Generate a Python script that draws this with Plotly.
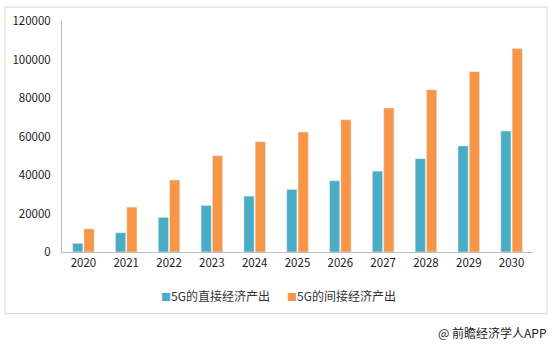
import plotly.graph_objects as go

years = ["2020", "2021", "2022", "2023", "2024", "2025", "2026", "2027", "2028", "2029", "2030"]
direct = [4500, 10000, 18000, 24200, 29000, 32500, 37000, 42000, 48500, 55100, 62800]
indirect = [12000, 23300, 37400, 50000, 57300, 62300, 68700, 74800, 84300, 93700, 105700]
name_direct = "5G的直接经济产出"
name_indirect = "5G的间接经济产出"
tick_vals = [0, 20000, 40000, 60000, 80000, 100000, 120000]
tick_text = ["0", "20000", "40000", "60000", "80000", "100000", "120000"]
c_direct = "#4BACC6"
c_indirect = "#F79646"

FONT = "Noto Sans CJK SC, Open Sans, sans-serif"

fig = go.Figure()
fig.add_trace(go.Bar(x=years, y=direct, name=name_direct, marker_color=c_direct))
fig.add_trace(go.Bar(x=years, y=indirect, name=name_indirect, marker_color=c_indirect))

L, R, T, B = 62, 19, 19, 94
W, H = 552, 346
pw, ph = W - L - R, H - T - B

def px(x):
    return (x - L) / pw

def py(y):
    return (H - B - y) / ph

def legend_item(x, name, color):
    return dict(text=f"<span style='color:{color};font-size:10px'>■</span>{name}",
                xref="paper", yref="paper", x=px(x), y=py(296), xanchor="left",
                yanchor="middle", showarrow=False,
                font=dict(size=12, color="#333333"))

fig.update_layout(
    width=W, height=H,
    margin=dict(l=L, r=R, t=T, b=B),
    paper_bgcolor="white", plot_bgcolor="white",
    barmode="group", bargap=0.47, bargroupgap=0.1,
    font=dict(family=FONT, size=11, color="#222222"),
    showlegend=False,
    xaxis=dict(showline=True, linecolor="#BFBFBF", linewidth=1, ticks="", showgrid=False,
               tickfont=dict(size=11.5, color="#222222")),
    yaxis=dict(range=[0, 120000], tickvals=tick_vals, ticktext=tick_text, showgrid=False,
               zeroline=False, showline=True, linecolor="#BFBFBF", linewidth=1, ticks="",
               tickfont=dict(size=11.5, color="#222222"), ticklabelstandoff=8),
    shapes=[dict(type="rect", xref="paper", yref="paper",
                 x0=px(5), x1=px(547), y0=py(314), y1=py(5),
                 line=dict(color="#D9D9D9", width=1), layer="below")],
    annotations=[
        legend_item(159, name_direct, c_direct),
        legend_item(285, name_indirect, c_indirect),
        dict(text="@ 前瞻经济学人APP", xref="paper", yref="paper",
             x=px(549), y=py(333), xanchor="right", yanchor="middle",
             showarrow=False, font=dict(size=12, color="#222222")),
    ],
)

fig.write_html("out.html")
